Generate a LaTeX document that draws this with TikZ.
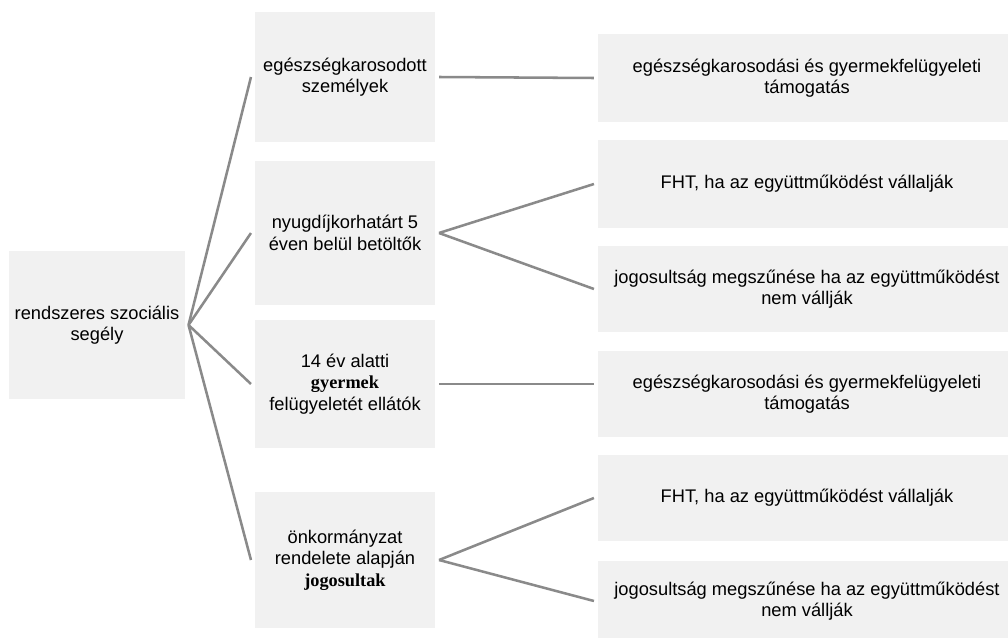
\documentclass[tikz,border=0pt]{standalone}
\usepackage{fontspec}
\setmainfont{Liberation Sans}
\newfontfamily\tnr{Liberation Serif}
\definecolor{boxgray}{RGB}{241,241,241}
\definecolor{linegray}{RGB}{138,138,138}
\tikzset
{
    rootbox/.style = {fill=boxgray, align=center, outer sep=0.1cm, font=\fontsize{13}{15.4}\selectfont, minimum width=4.375cm, minimum height=3.675cm},
    midbox/.style  = {fill=boxgray, align=center, outer sep=0.1cm, font=\fontsize{13}{15.4}\selectfont, minimum width=4.5cm},
    leafbox/.style = {fill=boxgray, align=center, outer sep=0.1cm, font=\fontsize{13}{15.4}\selectfont, minimum width=10.45cm},
    link/.style    = {draw=linegray, line width=1.8pt}
}

\begin{document}
\begin{tikzpicture}[x=0.025cm, y=-0.025cm]
\useasboundingbox (0,0) rectangle (1008,638);
\node [rootbox] at (97,325) (root) {rendszeres szociális\\segély};
\node [midbox, minimum height=3.25cm] at (345,77) (m1) {egészségkarosodott\\személyek};
\node [midbox, minimum height=3.575cm] at (345,233) (m2) {nyugdíjkorhatárt 5\\éven belül betöltők};
\node [midbox, minimum height=3.2cm] at (345,384) (m3) {14 év alatti\\{\tnr\bfseries gyermek}\\felügyeletét ellátók};
\node [midbox, minimum height=3.4cm] at (345,560) (m4) {önkormányzat\\rendelete alapján\\{\tnr\bfseries jogosultak}};
\node [leafbox, minimum height=2.2cm] at (807,78) (r1) {egészségkarosodási és gyermekfelügyeleti\\támogatás};
\node [leafbox, minimum height=2.2cm] at (807,184) (r2) {FHT, ha az együttműködést vállalják};
\node [leafbox, minimum height=2.15cm] at (807,289) (r3) {jogosultság megszűnése ha az együttműködést\\nem vállják};
\node [leafbox, minimum height=2.15cm] at (807,394) (r4) {egészségkarosodási és gyermekfelügyeleti\\támogatás};
\node [leafbox, minimum height=2.15cm] at (807,498) (r5) {FHT, ha az együttműködést vállalják};
\node [leafbox, minimum height=2.0cm] at (807,601) (r6) {jogosultság megszűnése ha az együttműködést\\nem vállják};
\draw [link] (root.east) -- (m1.west);
\draw [link] (root.east) -- (m2.west);
\draw [link] (root.east) -- (m3.west);
\draw [link] (root.east) -- (m4.west);
\draw [link] (m1.east) -- (r1.west);
\draw [link] (m2.east) -- (r2.west);
\draw [link] (m2.east) -- (r3.west);
\draw [link] (m3.east) -- (m3.east -| r4.west);
\draw [link] (m4.east) -- (r5.west);
\draw [link] (m4.east) -- (r6.west);
\end{tikzpicture}
\end{document}
